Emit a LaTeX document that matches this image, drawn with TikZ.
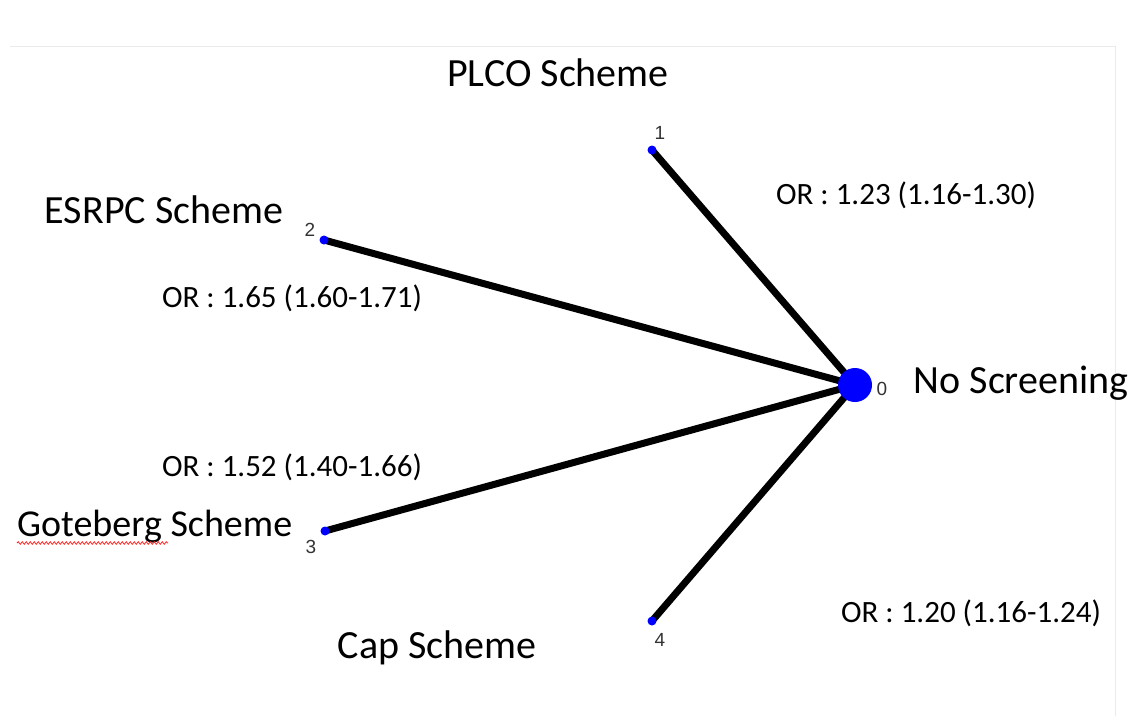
\documentclass[tikz,border=0pt]{standalone}
\usepackage{fontspec}
\setmainfont{Carlito}
\newfontfamily\numfont{Liberation Sans}
\usetikzlibrary{backgrounds}
\usetikzlibrary{decorations.pathmorphing}

\tikzset{
  hub/.style={circle, fill=blue, inner sep=0pt, minimum size=34pt},
  leaf/.style={circle, fill=blue, inner sep=0pt, minimum size=9pt},
  link/.style={line width=7pt, black},
  tag/.style={font=\numfont\fontsize{19}{19}\selectfont, text=black!80, inner sep=0pt},
  scheme/.style={font=\fontsize{40}{40}\selectfont, inner sep=0pt},
  ratio/.style={font=\fontsize{31}{31}\selectfont, inner sep=0pt},
}

\begin{document}
\begin{tikzpicture}[x=1pt, y=-1pt]
\useasboundingbox (0,0) rectangle (1141,716);
% faint frame of the plot area
\draw[black!8, line width=1pt] (10,46) -- (1115,46) -- (1115,716);

% treatments
\node[hub] (n0) at (855,385) {};
\node[leaf] (n1) at (652,150) {};
\node[leaf] (n2) at (324,240) {};
\node[leaf] (n3) at (325,531) {};
\node[leaf] (n4) at (652,621) {};

\node[tag] (t0) at (882,389) {0};
\node[tag] (t1) at (660,133) {1};
\node[tag] (t2) at (310,230) {2};
\node[tag] (t3) at (311,547) {3};
\node[tag] (t4) at (660,640) {4};

\begin{scope}[on background layer]
\draw[link] (n0.center) -- (n1.center);
\draw[link] (n0.center) -- (n2.center);
\draw[link] (n0.center) -- (n3.center);
\draw[link] (n0.center) -- (n4.center);
\end{scope}

% names of the schemes
\node[scheme] (plco) at (558,73) {PLCO Scheme};
\node[scheme] (esrpc) at (164,210) {ESRPC Scheme};
\node[scheme] (none) at (1021,383) {No Screening};
\node[scheme, font=\fontsize{38}{38}\selectfont, anchor=west] (gote) at (17,527) {Goteberg Scheme};
\node[scheme] (cap) at (437,648) {Cap Scheme};
\draw[red!85, line width=0.8pt, decorate, decoration={snake, amplitude=1.3pt, segment length=4pt}] (17,543) -- (168,543);

% odds ratios
\node[ratio] (or1) at (906,195) {OR : 1.23 (1.16-1.30)};
\node[ratio] (or2) at (292,298) {OR : 1.65 (1.60-1.71)};
\node[ratio] (or3) at (292,467) {OR : 1.52 (1.40-1.66)};
\node[ratio] (or4) at (971,613) {OR : 1.20 (1.16-1.24)};

\end{tikzpicture}
\end{document}
